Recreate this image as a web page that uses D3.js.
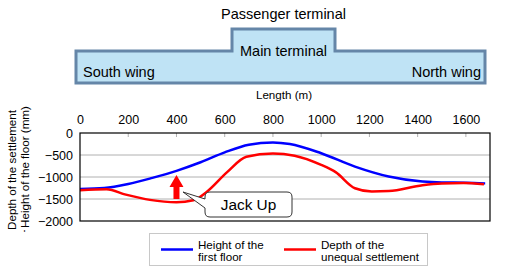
<!DOCTYPE html>
<html><head><meta charset="utf-8">
<script src="https://cdn.jsdelivr.net/npm/d3@7/dist/d3.min.js"></script>
<style>body{margin:0;background:#fff}svg{display:block;font-family:"Liberation Sans",Arial,sans-serif}</style>
</head><body><svg id="c" width="510" height="273"></svg>
<script>
const xTicks = [0,200,400,600,800,1000,1200,1400,1600];
const yTicks = [0,-500,-1000,-1500,-2000];
const heightFloor = [[0,-1270],[100,-1250],[200,-1160],[300,-1020],[400,-860],[500,-665],[600,-440],[700,-265],[800,-215],[870,-250],[1000,-460],[1140,-765],[1280,-990],[1420,-1105],[1500,-1125],[1600,-1130],[1680,-1145]];
const settlement = [[0,-1300],[110,-1280],[190,-1400],[290,-1520],[400,-1575],[470,-1530],[525,-1340],[610,-890],[690,-540],[800,-465],[890,-515],[1000,-725],[1060,-890],[1140,-1255],[1210,-1330],[1280,-1320],[1420,-1185],[1500,-1145],[1590,-1135],[1675,-1165]];
const seriesNames = [["Height of the","first floor"],["Depth of the","unequal settlement"]];
const seriesColors = ["#0000ff","#ff0000"];
const jackUpAt = 400;

const svg = d3.select("#c");
const L=80,R=490,T=133,B=221;
const x = d3.scaleLinear().domain([0,1700]).range([L,R]);
const y = d3.scaleLinear().domain([-2000,0]).range([B,T]);

// terminal diagram
const term = svg.append("g");
term.append("path")
  .attr("d","M76,51 L232,51 L232,29 L335,29 L335,51 L485,51 L485,83 L76,83 Z")
  .attr("fill","#bfe3f5").attr("stroke","#6586a8").attr("stroke-width",3);
term.append("text").attr("x",283.5).attr("y",19).attr("text-anchor","middle").attr("font-size",14.5).text("Passenger terminal");
term.append("text").attr("x",283.5).attr("y",55.5).attr("text-anchor","middle").attr("font-size",14.5).text("Main terminal");
term.append("text").attr("x",83).attr("y",76.5).attr("font-size",14.5).text("South wing");
term.append("text").attr("x",481).attr("y",76.5).attr("text-anchor","end").attr("font-size",14.5).text("North wing");

// gridlines
svg.append("g").selectAll("line").data(yTicks.filter(d=>d!==0&&d!==-2000)).join("line")
  .attr("x1",L).attr("x2",R).attr("y1",d=>y(d)).attr("y2",d=>y(d)).attr("stroke","#b0b0b0").attr("stroke-width",1);
svg.append("g").selectAll("line").data(xTicks.filter(d=>d>0)).join("line")
  .attr("x1",d=>x(d)).attr("x2",d=>x(d)).attr("y1",T).attr("y2",T+4).attr("stroke","#b0b0b0");

// axes labels
const xa = svg.append("g").attr("transform",`translate(0,${T})`).call(d3.axisTop(x).tickValues(xTicks).tickSize(0).tickPadding(9).tickFormat(d3.format("d")));
xa.select(".domain").remove();
xa.selectAll("text").attr("font-size",12.5).attr("fill","#000").attr("font-family","Liberation Sans, Arial, sans-serif");
const ya = svg.append("g").attr("transform",`translate(${L},0)`).call(d3.axisLeft(y).tickValues(yTicks).tickSize(0).tickPadding(7).tickFormat(d=>d<0?"\u2212"+Math.abs(d):d));
ya.select(".domain").remove();
ya.selectAll("text").attr("font-size",12.5).attr("fill","#000").attr("font-family","Liberation Sans, Arial, sans-serif");

svg.append("text").attr("x",284).attr("y",99).attr("text-anchor","middle").attr("font-size",11.6).text("Length (m)");
const yt = svg.append("text").attr("transform","translate(0,170) rotate(-90)").attr("text-anchor","middle").attr("font-size",11.6);
yt.append("tspan").attr("x",0).attr("y",16).text("Depth of the settlement");
yt.append("tspan").attr("x",0).attr("y",29).text("\uFF65Height of the floor (mm)");

// lines
const line = d3.line().x(d=>x(d[0])).y(d=>y(d[1])).curve(d3.curveMonotoneX);
[heightFloor,settlement].forEach((s,i)=>{
  svg.append("path").attr("d",line(s)).attr("fill","none").attr("stroke",seriesColors[i]).attr("stroke-width",2.5);
});

// frame
svg.append("rect").attr("x",L).attr("y",T).attr("width",R-L).attr("height",B-T).attr("fill","none").attr("stroke","#000").attr("stroke-width",1.2);

// jack up arrow
const ax = x(jackUpAt);
svg.append("path").attr("d",`M${ax-3},199 L${ax-3},187 L${ax-7},187 L${ax},175 L${ax+7},187 L${ax+3},187 L${ax+3},199 Z`).attr("fill","#ff0000");
// callout
svg.append("path").attr("d","M210,192 L287,192 Q292,192 292,197 L292,212 Q292,217 287,217 L210,217 Q205,217 205,212 L205,208 L183,192 L205,199 L205,197 Q205,192 210,192 Z")
  .attr("fill","#fff").attr("stroke","#333").attr("stroke-width",1);
svg.append("text").attr("x",248.5).attr("y",210).attr("text-anchor","middle").attr("font-size",15.4).text("Jack Up");

// legend
svg.append("rect").attr("x",149.5).attr("y",233.5).attr("width",278).attr("height",32).attr("fill","#fff").attr("stroke","#c8c8c8");
const lx=[161,284];
seriesNames.forEach((n,i)=>{
  svg.append("line").attr("x1",lx[i]).attr("x2",lx[i]+32).attr("y1",249.5).attr("y2",249.5).attr("stroke",seriesColors[i]).attr("stroke-width",2.5);
  const t=svg.append("text").attr("font-size",11.6);
  t.append("tspan").attr("x",lx[i]+37).attr("y",249).text(n[0]);
  t.append("tspan").attr("x",lx[i]+37).attr("y",261).text(n[1]);
});
</script></body></html>
